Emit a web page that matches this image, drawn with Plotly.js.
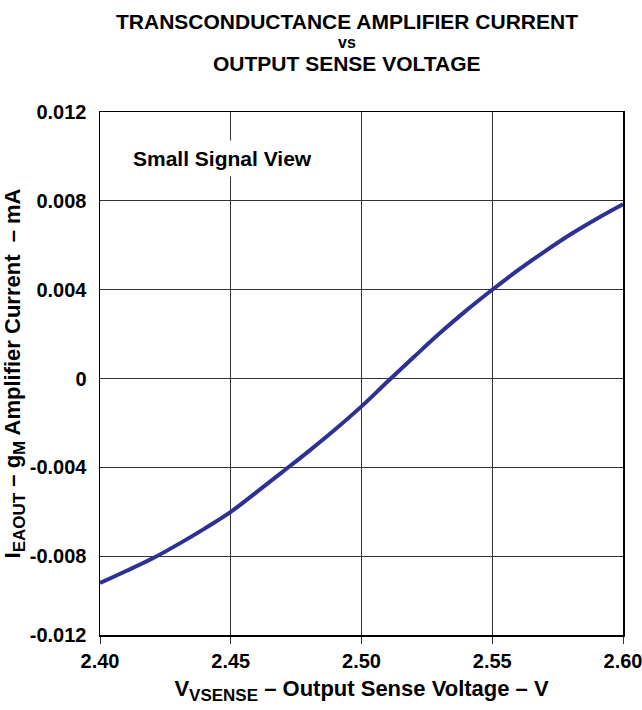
<!DOCTYPE html>
<html>
<head>
<meta charset="utf-8">
<script src="https://cdn.plot.ly/plotly-3.0.1.min.js"></script>
<style>html,body{margin:0;padding:0;background:#fff;}#chart{width:642px;height:710px;}</style>
</head>
<body>
<div id="chart"></div>
<script>
// Data
const vsense = [2.40, 2.41, 2.42, 2.43, 2.44, 2.45, 2.46, 2.47, 2.48, 2.49, 2.50, 2.51, 2.52, 2.53, 2.54, 2.55, 2.56, 2.57, 2.58, 2.59, 2.60];
const current = [-0.0092, -0.00866, -0.00810, -0.00745, -0.00675, -0.00600, -0.00510, -0.00418, -0.00325, -0.00228, -0.00125, -0.00013, 0.00097, 0.00205, 0.00306, 0.00400, 0.00489, 0.00572, 0.00650, 0.00720, 0.00785];
const xTickVals = [2.40, 2.45, 2.50, 2.55, 2.60];
const xTickText = ["2.40", "2.45", "2.50", "2.55", "2.60"];
// the reference's bottom interval is drawn shorter than the others: its lowest label sits at the frame
const yAxisBottom = -0.01154;
const yTickVals = [0.012, 0.008, 0.004, 0, -0.004, -0.008, yAxisBottom];
const yTickText = ["0.012", "0.008", "0.004", "0", "-0.004", "-0.008", "-0.012"];
const titleLines = ["TRANSCONDUCTANCE AMPLIFIER CURRENT", "vs", "OUTPUT SENSE VOLTAGE"];

const font = "Liberation Sans, Arial, sans-serif";

const trace = {
  x: vsense, y: current, type: 'scatter', mode: 'lines',
  line: {color: '#2e3192', width: 4, shape: 'spline', smoothing: 1},
  hoverinfo: 'skip'
};

const plotTop = 112, plotBottom = 635;
function titleAnn(text, yPx, size) {
  return {
    x: 0.472, xref: 'paper', xanchor: 'center',
    y: (plotBottom - yPx) / (plotBottom - plotTop), yref: 'paper', yanchor: 'middle',
    text: '<b>' + text + '</b>', showarrow: false,
    font: {family: font, size: size, color: '#000'}
  };
}
function sub(t, px) { return '<sub><span style="font-size:' + px + 'px">' + t + '</span></sub>'; }

const layout = {
  width: 642, height: 710,
  margin: {l: 100, r: 19, t: plotTop, b: 710 - plotBottom},
  paper_bgcolor: '#fff', plot_bgcolor: '#fff',
  showlegend: false,
  font: {family: font, color: '#000'},
  xaxis: {
    range: [2.40, 2.60], tickvals: xTickVals, ticktext: xTickText,
    showgrid: true, gridcolor: '#333', gridwidth: 1,
    showline: true, linecolor: '#000', linewidth: 1.5, mirror: true,
    ticks: 'outside', ticklen: 7, tickcolor: '#333',
    ticklabeloverflow: 'allow',
    tickfont: {family: font, size: 20, color: '#000', weight: 'bold'},
    zeroline: false,
    title: {text: '<b>V' + sub('VSENSE', 17) + ' – Output Sense Voltage – V</b>', font: {family: font, size: 22, color: '#000'}, standoff: 10}
  },
  yaxis: {
    range: [yAxisBottom, 0.012], tickvals: yTickVals, ticktext: yTickText,
    showgrid: true, gridcolor: '#333', gridwidth: 1,
    showline: true, linecolor: '#000', linewidth: 1.5, mirror: true,
    ticks: '', ticklen: 0, ticklabelstandoff: 8,
    tickfont: {family: font, size: 20, color: '#000', weight: 'bold'},
    zeroline: false,
    title: {text: '<b>I' + sub('EAOUT', 17) + ' – g' + sub('M', 17) + ' Amplifier Current  – mA</b>', font: {family: font, size: 22, color: '#000'}, standoff: 3}
  },
  annotations: [
    titleAnn(titleLines[0], 21, 21),
    titleAnn(titleLines[1], 42, 16),
    titleAnn(titleLines[2], 64, 21),
    {
      x: 2.447, y: 0.0099, xref: 'x', yref: 'y',
      text: '<b>Small Signal View</b>', showarrow: false,
      font: {family: font, size: 21, color: '#000'},
      bgcolor: '#fff', borderpad: 6
    }
  ]
};

Plotly.newPlot('chart', [trace], layout, {displayModeBar: false, staticPlot: true});
</script>
</body>
</html>
